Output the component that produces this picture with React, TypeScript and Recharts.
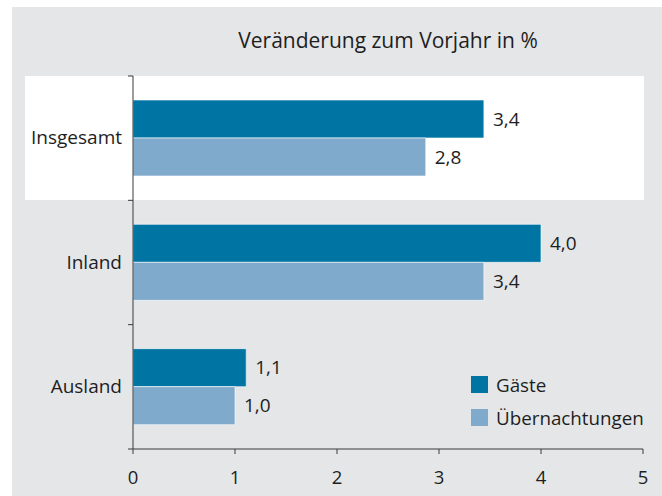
import React from 'react';
import { BarChart, Bar, XAxis, YAxis, LabelList } from 'recharts';

const title = 'Veränderung zum Vorjahr in %';
const categories = ['Insgesamt', 'Inland', 'Ausland'];
const seriesNames = ['Gäste', 'Übernachtungen'];
const gaeste = [3.44, 4.0, 1.11];
const uebernachtungen = [2.87, 3.44, 1.0];
const gaesteLabels = ['3,4', '4,0', '1,1'];
const uebernachtungenLabels = ['2,8', '3,4', '1,0'];
const xTicks = [0, 1, 2, 3, 4, 5];

const COLORS = ['#0075a3', '#80aacc'];
const FONT = '"Open Sans", "Noto Sans", sans-serif';
const TEXT = '#1e1e1e';
const AXIS = '#3a3a3a';

const data = categories.map((c, i) => ({
  name: c,
  g: gaeste[i],
  u: uebernachtungen[i],
  gl: gaesteLabels[i],
  ul: uebernachtungenLabels[i],
}));

const TICK_SIZE = 6;
const TICK_MARGIN = 5;

const YTick = (props: any) => {
  const { x, y, payload, index, visibleTicksCount } = props;
  const axisX = x + TICK_SIZE + TICK_MARGIN;
  const half = payload && payload.offset ? payload.offset : 62;
  const last = index === visibleTicksCount - 1;
  return (
    <g>
      <line x1={axisX - 5} x2={axisX} y1={y - half} y2={y - half} stroke={AXIS} strokeWidth={1} />
      {last && <line x1={axisX - 5} x2={axisX} y1={y + half} y2={y + half} stroke={AXIS} strokeWidth={1} />}
      <text x={x} y={y} dy="0.33em" textAnchor="end" fill={TEXT} fontSize={19} fontFamily={FONT}>
        {payload.value}
      </text>
    </g>
  );
};

export default function App() {
  return (
    <div style={{ position: 'absolute', left: 0, top: 0, width: 662, height: 496, overflow: 'hidden' }}>
      <div style={{ position: 'absolute', left: 12, top: 7, width: 650, height: 489, background: '#e5e6e8' }} />
      <div style={{ position: 'absolute', left: 25, top: 76, width: 619, height: 124, background: '#ffffff' }} />
      <div style={{ position: 'absolute', left: 0, top: 0 }}>
        <BarChart
          width={662}
          height={496}
          data={data}
          layout="vertical"
          margin={{ top: 76, right: 19, bottom: 17, left: 0 }}
          barGap={0}
        >
          <XAxis
            type="number"
            domain={[0, 5]}
            ticks={xTicks}
            tickSize={5}
            tickMargin={17}
            height={30}
            axisLine={{ stroke: AXIS }}
            tickLine={{ stroke: AXIS }}
            tick={{ fill: TEXT, fontSize: 18.5, fontFamily: FONT }}
          />
          <YAxis
            type="category"
            dataKey="name"
            width={133}
            tickLine={false}
            tickSize={TICK_SIZE}
            tickMargin={TICK_MARGIN}
            axisLine={{ stroke: AXIS }}
            tick={<YTick />}
            interval={0}
          />
          <Bar dataKey="g" name={seriesNames[0]} fill={COLORS[0]} barSize={38} stroke="#ffffff" strokeOpacity={0.6} strokeWidth={1} isAnimationActive={false}>
            <LabelList dataKey="gl" position="right" offset={9} fill={TEXT} fontSize={19} fontFamily={FONT} />
          </Bar>
          <Bar dataKey="u" name={seriesNames[1]} fill={COLORS[1]} barSize={38} stroke="#ffffff" strokeOpacity={0.6} strokeWidth={1} isAnimationActive={false}>
            <LabelList dataKey="ul" position="right" offset={9} fill={TEXT} fontSize={19} fontFamily={FONT} />
          </Bar>
        </BarChart>
      </div>
      <div style={{ position: 'absolute', left: 471, top: 368, fontFamily: FONT, fontSize: 18.8, color: TEXT }}>
        {seriesNames.map((n, i) => (
          <div key={n} style={{ display: 'flex', alignItems: 'center', height: 33 }}>
            <span style={{ display: 'inline-block', width: 17, height: 17, background: COLORS[i], marginRight: 8 }} />
            <span>{n}</span>
          </div>
        ))}
      </div>
      <svg style={{ position: 'absolute', left: 0, top: 0 }} width={662} height={60}>
        <text x={388} y={48} textAnchor="middle" fill={TEXT} fontSize={21} fontFamily={FONT}>
          {title}
        </text>
      </svg>
    </div>
  );
}
